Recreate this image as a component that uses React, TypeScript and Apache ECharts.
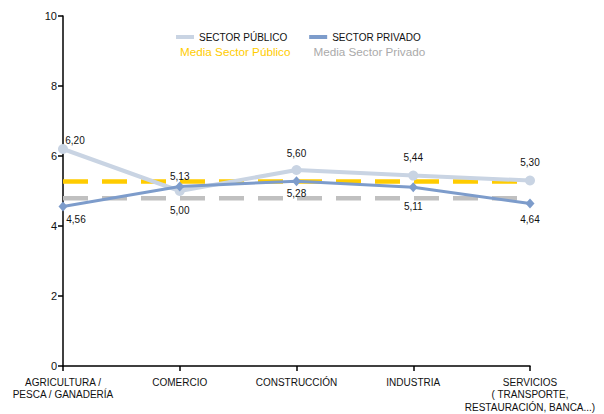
import React, { useEffect, useRef } from "react";
import * as echarts from "echarts";

const categories = [
  "AGRICULTURA /\nPESCA / GANADERÍA",
  "COMERCIO",
  "CONSTRUCCIÓN",
  "INDUSTRIA",
  "SERVICIOS\n( TRANSPORTE,\nRESTAURACIÓN, BANCA...)",
];
const publicValues = [6.2, 5.0, 5.6, 5.44, 5.3];
const privateValues = [4.56, 5.13, 5.28, 5.11, 4.64];
const meanPublic = 5.27;
const meanPrivate = 4.79;
const publicLabelOffsets = [[12, -9], [0, 19], [0, -17], [0, -18], [0, -18]];
const privateLabelOffsets = [[13, 13], [0, -10], [0, 12], [0, 19], [0, 16]];

const FONT = "'Liberation Sans', Arial, sans-serif";
const fmt = (p: any) => Number(p.value).toFixed(2).replace(".", ",");

export default function App() {
  const ref = useRef<HTMLDivElement>(null);
  useEffect(() => {
    if (!ref.current) return;
    const chart = echarts.init(ref.current, undefined, { renderer: "svg" });
    const labelBase = {
      show: true,
      position: "inside",
      formatter: fmt,
      color: "#111",
      fontSize: 10,
      fontFamily: FONT,
    };
    chart.setOption({
      animation: false,
      backgroundColor: "#fff",
      textStyle: { fontFamily: FONT },
      grid: { left: 63, right: 74, top: 16, bottom: 48 },
      legend: [
        {
          left: 171,
          top: 27,
          itemWidth: 18,
          itemHeight: 4,
          itemGap: 22,
          textStyle: { fontSize: 10, color: "#111", fontFamily: FONT },
          data: [
            { name: "SECTOR PÚBLICO", icon: "rect" },
            { name: "SECTOR PRIVADO", icon: "rect" },
          ],
        },
        {
          left: 170,
          top: 40,
          itemWidth: 0,
          itemHeight: 4,
          itemGap: 18,
          textStyle: { fontSize: 11.7, fontFamily: FONT },
          data: [
            { name: "Media Sector Público", icon: "none", textStyle: { color: "#ffcc00" } },
            { name: "Media Sector Privado", icon: "none", textStyle: { color: "#aaaaaa" } },
          ],
        },
      ],
      xAxis: {
        type: "category",
        data: categories,
        boundaryGap: false,
        axisLine: { lineStyle: { color: "#000", width: 1.5 } },
        axisTick: { alignWithLabel: true, length: 5, lineStyle: { color: "#000", width: 1.5 } },
        axisLabel: { color: "#111", fontSize: 10, fontFamily: FONT, lineHeight: 12.5, margin: 10, interval: 0 },
      },
      yAxis: {
        type: "value",
        min: 0,
        max: 10,
        interval: 2,
        axisLine: { show: true, lineStyle: { color: "#000", width: 1.5 } },
        axisTick: { show: true, length: 5, lineStyle: { color: "#000", width: 1.5 } },
        axisLabel: { color: "#111", fontSize: 11, fontFamily: FONT, margin: 6 },
        splitLine: { show: false },
      },
      series: [
        {
          name: "Media Sector Público",
          type: "line",
          data: categories.map(() => meanPublic),
          symbol: "none",
          color: "#ffcc00",
          lineStyle: { color: "#ffcc00", width: 4.5, type: [25, 14] },
          z: 2,
        },
        {
          name: "Media Sector Privado",
          type: "line",
          data: categories.map(() => meanPrivate),
          symbol: "none",
          color: "#c0c0c0",
          lineStyle: { color: "#c0c0c0", width: 4.5, type: [25, 14] },
          z: 2,
        },
        {
          name: "SECTOR PÚBLICO",
          type: "line",
          data: publicValues.map((v, i) => ({
            value: v,
            label: { offset: publicLabelOffsets[i] },
          })),
          symbol: "circle",
          symbolSize: 10,
          color: "#c9d4e3",
          itemStyle: { color: "#c9d4e3" },
          lineStyle: { color: "#c9d4e3", width: 4 },
          label: labelBase,
          z: 3,
        },
        {
          name: "SECTOR PRIVADO",
          type: "line",
          data: privateValues.map((v, i) => ({
            value: v,
            label: { offset: privateLabelOffsets[i] },
          })),
          symbol: "diamond",
          symbolSize: [9, 10],
          color: "#7d9ccb",
          itemStyle: { color: "#7d9ccb" },
          lineStyle: { color: "#7d9ccb", width: 3 },
          label: labelBase,
          z: 4,
        },
      ],
    });
    return () => chart.dispose();
  }, []);
  return (
    <div
      ref={ref}
      style={{ position: "absolute", left: 0, top: 0, width: 604, height: 414 }}
    />
  );
}
